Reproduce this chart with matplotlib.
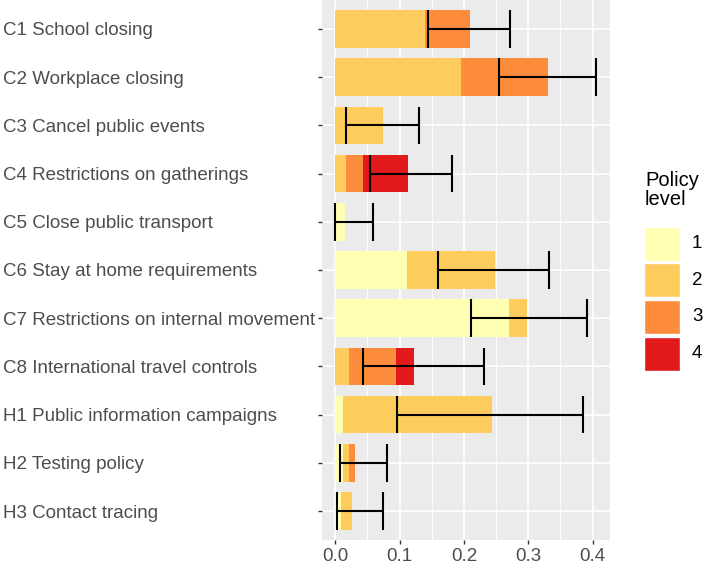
import numpy as np
import matplotlib
matplotlib.use("Agg")
import matplotlib.pyplot as plt
from matplotlib.patches import Rectangle

plt.rcParams['font.family'] = ['Liberation Sans', 'DejaVu Sans']

categories = ["C1 School closing", "C2 Workplace closing", "C3 Cancel public events",
              "C4 Restrictions on gatherings", "C5 Close public transport",
              "C6 Stay at home requirements", "C7 Restrictions on internal movement",
              "C8 International travel controls", "H1 Public information campaigns",
              "H2 Testing policy", "H3 Contact tracing"]
level1 = [0, 0, 0, 0, 0.0155, 0.112, 0.2694, 0, 0.0124, 0.0114, 0.0093]
level2 = [0.140, 0.196, 0.0746, 0.0166, 0, 0.1357, 0.0286, 0.0207, 0.2306, 0.0104, 0.0161]
level3 = [0.070, 0.135, 0, 0.0259, 0, 0, 0, 0.0736, 0, 0.0082, 0]
level4 = [0, 0, 0, 0.071, 0, 0, 0, 0.0285, 0, 0, 0]
err_lo = [0.144, 0.255, 0.017, 0.0534, 0.0, 0.160, 0.211, 0.0435, 0.0964, 0.0078, 0.003]
err_hi = [0.271, 0.406, 0.1306, 0.182, 0.058, 0.3316, 0.392, 0.2306, 0.3845, 0.0808, 0.0746]
levels = ["1", "2", "3", "4"]
colors = ["#FFFFB2", "#FECC5C", "#FD8D3C", "#E31A1C"]

W, H = 704, 563
fig = plt.figure(figsize=(W / 100, H / 100), dpi=100)
ax = fig.add_axes([322 / W, 1 - 540 / H, (610 - 322) / W, 540 / H])
ax.set_facecolor("#EBEBEB")
for s in ax.spines.values():
    s.set_visible(False)

n = len(categories)
y = np.arange(n)[::-1]
bw = 0.78

# grid
for gx in [0.05, 0.15, 0.25, 0.35]:
    ax.axvline(gx, color="white", lw=0.6, zorder=0)
for gx in [0.0, 0.1, 0.2, 0.3, 0.4]:
    ax.axvline(gx, color="white", lw=1.2, zorder=0)
for gy in y:
    ax.axhline(gy, color="white", lw=1.2, zorder=0)

left = np.zeros(n)
for lev, vals, c in zip(levels, [level1, level2, level3, level4], colors):
    vals = np.array(vals)
    ax.barh(y, vals, left=left, height=bw, color=c, zorder=2)
    left += vals

ax.hlines(y, err_lo, err_hi, color="black", lw=1.5, zorder=3)
ax.vlines(err_lo, y - bw / 2, y + bw / 2, color="black", lw=1.5, zorder=3)
ax.vlines(err_hi, y - bw / 2, y + bw / 2, color="black", lw=1.5, zorder=3)

ax.set_xlim(-0.0207, 0.427)
ax.set_ylim(-0.6, n - 0.4)
ax.set_xticks([0.0, 0.1, 0.2, 0.3, 0.4])
ax.set_xticklabels(["0.0", "0.1", "0.2", "0.3", "0.4"])
ax.set_yticks(y)
ax.set_yticklabels(categories)
ax.tick_params(colors="#333333", labelcolor="#4D4D4D", labelsize=13.5,
               length=3, width=1, pad=2.5)
# y labels are left aligned at the figure edge
ax.tick_params(axis="y", pad=(322 - 3) * 0.72 - 3)
for lab in ax.get_yticklabels():
    lab.set_ha("left")

# legend, drawn by hand in figure pixels
fig.text(645 / W, 1 - 171 / H, "Policy\nlevel", fontsize=14.5, color="black",
         ha="left", va="top", linespacing=1.0)
for i, (lev, c) in enumerate(zip(levels, colors)):
    top = 226.5 + i * 36.7
    fig.add_artist(Rectangle((644 / W, 1 - (top + 34) / H), 36 / W, 34 / H,
                             transform=fig.transFigure, facecolor=c,
                             edgecolor="white", lw=1))
    fig.text(692 / W, 1 - (top + 17) / H, lev, fontsize=13.5, color="black",
             ha="left", va="center")

fig.savefig("out.png", dpi=100)
